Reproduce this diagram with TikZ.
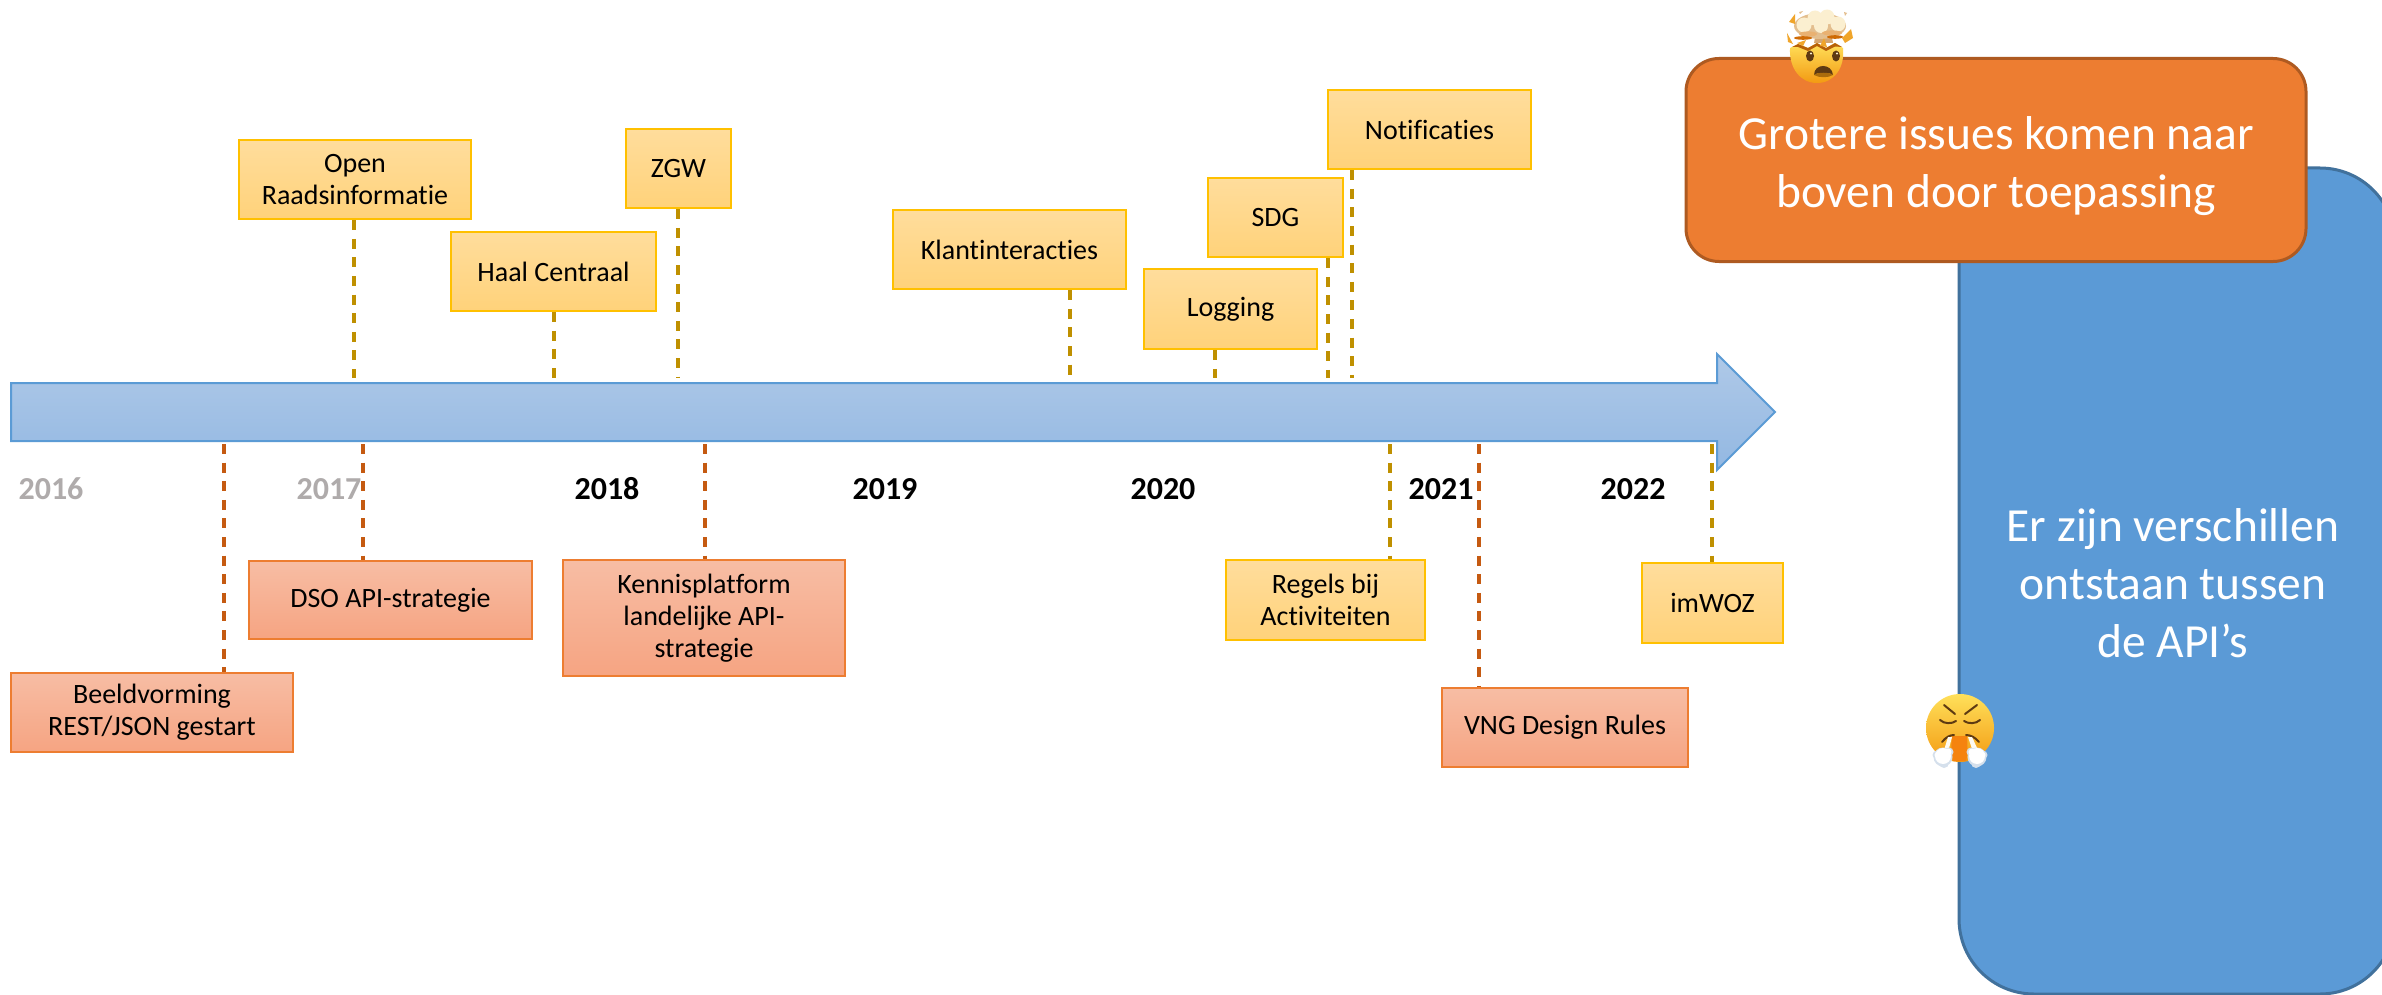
\documentclass[tikz,border=0pt]{standalone}
\usepackage{fontspec}
\setmainfont[RawFeature=-liga]{Carlito}
\definecolor{ytop}{HTML}{FFDD9C}\definecolor{ybot}{HTML}{FFD27A}\definecolor{yline}{HTML}{FFC000}\definecolor{ydash}{HTML}{BF9000}
\definecolor{otop}{HTML}{F7BDA4}\definecolor{obot}{HTML}{F6A482}\definecolor{oline}{HTML}{ED7D31}\definecolor{odash}{HTML}{C55A11}
\definecolor{atop}{HTML}{AFC9E8}\definecolor{abot}{HTML}{93B8E2}\definecolor{aline}{HTML}{5B9BD5}
\definecolor{bigblue}{HTML}{5B9AD6}\definecolor{bigblueline}{HTML}{41719C}
\definecolor{bigor}{HTML}{ED7D31}\definecolor{bigorline}{HTML}{AE5A21}
\definecolor{grayyear}{HTML}{AFABAB}
\definecolor{facetop}{HTML}{FFE05A}\definecolor{facebot}{HTML}{F39A12}
\definecolor{cream}{HTML}{FBEFD0}\definecolor{creamd}{HTML}{E3BE8E}\definecolor{frag}{HTML}{F0A52A}\definecolor{brownf}{HTML}{5E3A12}
\definecolor{puff}{HTML}{D5E0EC}
\tikzset{
  ybox/.style={draw=yline,line width=2.5pt,top color=ytop,bottom color=ybot,align=center,inner sep=0pt,font=\fontsize{28}{32}\selectfont,text=black},
  obox/.style={draw=oline,line width=2.5pt,top color=otop,bottom color=obot,align=center,inner sep=0pt,font=\fontsize{28}{32}\selectfont,text=black},
  ydashline/.style={draw=ydash,line width=3.4pt,dash pattern=on 10pt off 8.6pt},
  odashline/.style={draw=odash,line width=3.4pt,dash pattern=on 10pt off 8.6pt},
  yearb/.style={font=\fontsize{32}{36}\selectfont\bfseries,text=black,inner sep=0pt},
  yearg/.style={font=\fontsize{32}{36}\selectfont\bfseries,text=grayyear,inner sep=0pt},
  bigtxt/.style={font=\fontsize{47.5}{58}\selectfont,text=white,align=center,inner sep=0pt},
}
\newcommand{\bx}[7]{\node[#1,minimum width=#4pt-#2pt,minimum height=#5pt-#3pt] (#6) at ({(#2+#4)/2},{(#3+#5)/2}) {#7};}
\begin{document}
\begin{tikzpicture}[x=1pt,y=-1pt]
\useasboundingbox (0,0) rectangle (2382,995);
\fill[white] (0,0) rectangle (2382,995);
% connector end points on the arrow
\coordinate (t1) at (354,378);\coordinate (t2) at (554,378);\coordinate (t3) at (678,378);\coordinate (t4) at (1070,378);
\coordinate (t5) at (1215,378);\coordinate (t6) at (1328,378);\coordinate (t7) at (1352,378);
\coordinate (b1) at (224,444);\coordinate (b2) at (363,444);\coordinate (b3) at (705,444);\coordinate (b4) at (1390,444);
\coordinate (b5) at (1479,444);\coordinate (b6) at (1712,444);
% big blue panel
\begin{scope}
\clip (0,0) rectangle (2382,995);
\node[draw=bigblueline,line width=3pt,fill=bigblue,rounded corners=75pt,minimum width=436pt,minimum height=826pt,inner sep=0pt] (panel) at (2177,581) {};
\end{scope}
\node[bigtxt] (paneltxt) at (2173,583) {Er zijn verschillen\\ontstaan tussen\\de API’s};
% arrow
\path[draw=aline,line width=2pt,top color=atop,bottom color=abot,line join=miter]
  (11,383) -- (1717,383) -- (1717,354) -- (1775,412) -- (1717,470) -- (1717,441) -- (11,441) -- cycle;
% yellow top
\bx{ybox}{239}{140}{471}{219}{open}{Open\\Raadsinformatie}
\bx{ybox}{626}{129}{731}{208}{zgw}{ZGW}
\bx{ybox}{451}{232}{656}{311}{haal}{Haal Centraal}
\bx{ybox}{893}{210}{1126}{289}{klant}{Klantinteracties}
\bx{ybox}{1144}{269}{1317}{349}{logging}{Logging}
\bx{ybox}{1208}{178}{1343}{257}{sdg}{SDG}
\bx{ybox}{1328}{90}{1531}{169}{notif}{Notificaties}
% lower
\bx{obox}{11}{673}{293}{752}{beeld}{Beeldvorming\\REST/JSON gestart}
\bx{obox}{249}{561}{532}{639}{dso}{DSO API-strategie}
\bx{obox}{563}{560}{845}{676}{kennis}{Kennisplatform\\landelijke API-\\strategie}
\bx{ybox}{1226}{560}{1425}{640}{regels}{Regels bij\\Activiteiten}
\bx{obox}{1442}{688}{1688}{767}{vng}{VNG Design Rules}
\bx{ybox}{1642}{563}{1783}{643}{imwoz}{imWOZ}
% years
\node[yearg] (y16) at (51,489) {2016};
\node[yearg] (y17) at (329,489) {2017};
\node[yearb] (y18) at (607,489) {2018};
\node[yearb] (y19) at (885,489) {2019};
\node[yearb] (y20) at (1163,489) {2020};
\node[yearb] (y21) at (1441,489) {2021};
\node[yearb] (y22) at (1633,489) {2022};
% connectors
\draw[ydashline] (open.south -| t1) -- (t1);
\draw[ydashline] (haal.south -| t2) -- (t2);
\draw[ydashline] (zgw.south -| t3) -- (t3);
\draw[ydashline] (klant.south -| t4) -- (t4);
\draw[ydashline] (logging.south -| t5) -- (t5);
\draw[ydashline] (sdg.south -| t6) -- (t6);
\draw[ydashline] (notif.south -| t7) -- (t7);
\draw[odashline] (b1) -- (beeld.north -| b1);
\draw[odashline] (b2) -- (dso.north -| b2);
\draw[odashline] (b3) -- (kennis.north -| b3);
\draw[ydashline] (b4) -- (regels.north -| b4);
\draw[odashline] (b5) -- (vng.north -| b5);
\draw[ydashline] (b6) -- (imwoz.north -| b6);
% orange box
\node[draw=bigorline,line width=3pt,fill=bigor,rounded corners=33pt,minimum width=620pt,minimum height=203pt,inner sep=0pt] (issue) at (1996,160) {};
\node[bigtxt] (issuetxt) at (1996,166) {Grotere issues komen naar\\boven door toepassing};
% exploding head
\begin{scope}
\shade[top color=facetop,bottom color=facebot] (1790,48) .. controls (1789,68) and (1800,83) .. (1817,83) .. controls (1834,83) and (1845,68) .. (1843,48) -- (1835,43) -- (1826,48) -- (1817,43) -- (1808,48) -- (1798,44) -- cycle;
\fill[brownf!45!orange] (1792,47) -- (1798,44) -- (1808,48) -- (1817,43) -- (1826,48) -- (1835,43) -- (1842,47) -- (1835,46.5) -- (1826,51) -- (1817,46) -- (1808,51) -- (1798,47) -- cycle;
\fill[brownf] (1810,56) ellipse (4pt and 5.5pt) (1836,56) ellipse (4pt and 5.5pt);
\fill[cream] (1811,53.5) circle (1.1pt) (1837,53.5) circle (1.1pt);
\fill[brownf] (1814,75) .. controls (1814,63) and (1832,63) .. (1833,75) .. controls (1830,72) and (1817,72) .. (1814,75) -- cycle;
\fill[facebot!70!black] (1814,75) .. controls (1817,72) and (1830,72) .. (1833,75) .. controls (1828,78) and (1819,78) .. (1814,75) -- cycle;
\fill[creamd!60!brown] (1816,32) -- (1831,32) -- (1833,43) -- (1814,43) -- cycle;
\fill[creamd] (1820,26) ellipse (26pt and 13pt);
\fill[cream] (1804,25) circle (7.5pt) (1815,18) circle (7.5pt) (1827,17) circle (7.5pt) (1838,24) circle (7.5pt) (1821,26) circle (7pt);
\fill[creamd!80!orange] (1808,34) ellipse (9pt and 2.6pt) (1832,33) ellipse (10pt and 2.6pt);
\fill[brownf!30!orange] (1803,38) ellipse (9pt and 1.8pt) (1835,37) ellipse (8pt and 1.8pt);
\fill[frag] (1789,22) -- (1795,14) -- (1795,24) -- cycle (1787,33) -- (1793,44) -- (1788,42) -- cycle (1842,38) -- (1851,29) -- (1853,38) -- (1845,43) -- cycle (1797,43) -- (1806,40) -- (1803,46) -- cycle (1820,46) -- (1824,38) -- (1827,47) -- cycle;
\fill[creamd] (1799,12) -- (1803,11) -- (1800,14) -- cycle (1844,12) -- (1847,13) -- (1845,16) -- cycle;
\end{scope}
% face with steam
\begin{scope}
\shade[top color=facetop,bottom color=facebot] (1960,728) circle (34pt);
\fill[facebot!85!red] (1952,736) -- (1967,736) .. controls (1968,745) and (1967,760) .. (1966,761) -- (1953,761) .. controls (1951,755) and (1951,745) .. (1952,736) -- cycle;
\draw[brownf,line width=2pt,line cap=round] (1944,705) -- (1955,714) (1977,705) -- (1965,714);
\draw[brownf,line width=2pt,line cap=round] (1940,720) .. controls (1944,724) and (1952,724) .. (1956,721) (1964,721) .. controls (1968,724) and (1976,724) .. (1980,720);
\draw[brownf,line width=2pt,line cap=round] (1942,742) .. controls (1946,737) and (1950,735) .. (1954,735) (1966,735) .. controls (1970,735) and (1975,737) .. (1979,742);
\fill[white!70!cream] (1948,737) -- (1952,737) -- (1948,752) -- (1944,750) -- cycle (1968,737) -- (1972,737) -- (1978,750) -- (1973,752) -- cycle;
\fill[puff] (1943,757) circle (9.5pt) (1937,755) circle (4.5pt) (1949,752) circle (4.5pt) (1944,763) circle (5pt);
\fill[puff] (1977,757) circle (9.5pt) (1983,755) circle (4.5pt) (1971,752) circle (4.5pt) (1976,763) circle (5pt);
\fill[white] (1943,756) circle (8pt) (1938,755) circle (3.5pt) (1948,752) circle (3.5pt);
\fill[white] (1977,756) circle (8pt) (1982,755) circle (3.5pt) (1972,752) circle (3.5pt);
\end{scope}
\end{tikzpicture}
\end{document}
